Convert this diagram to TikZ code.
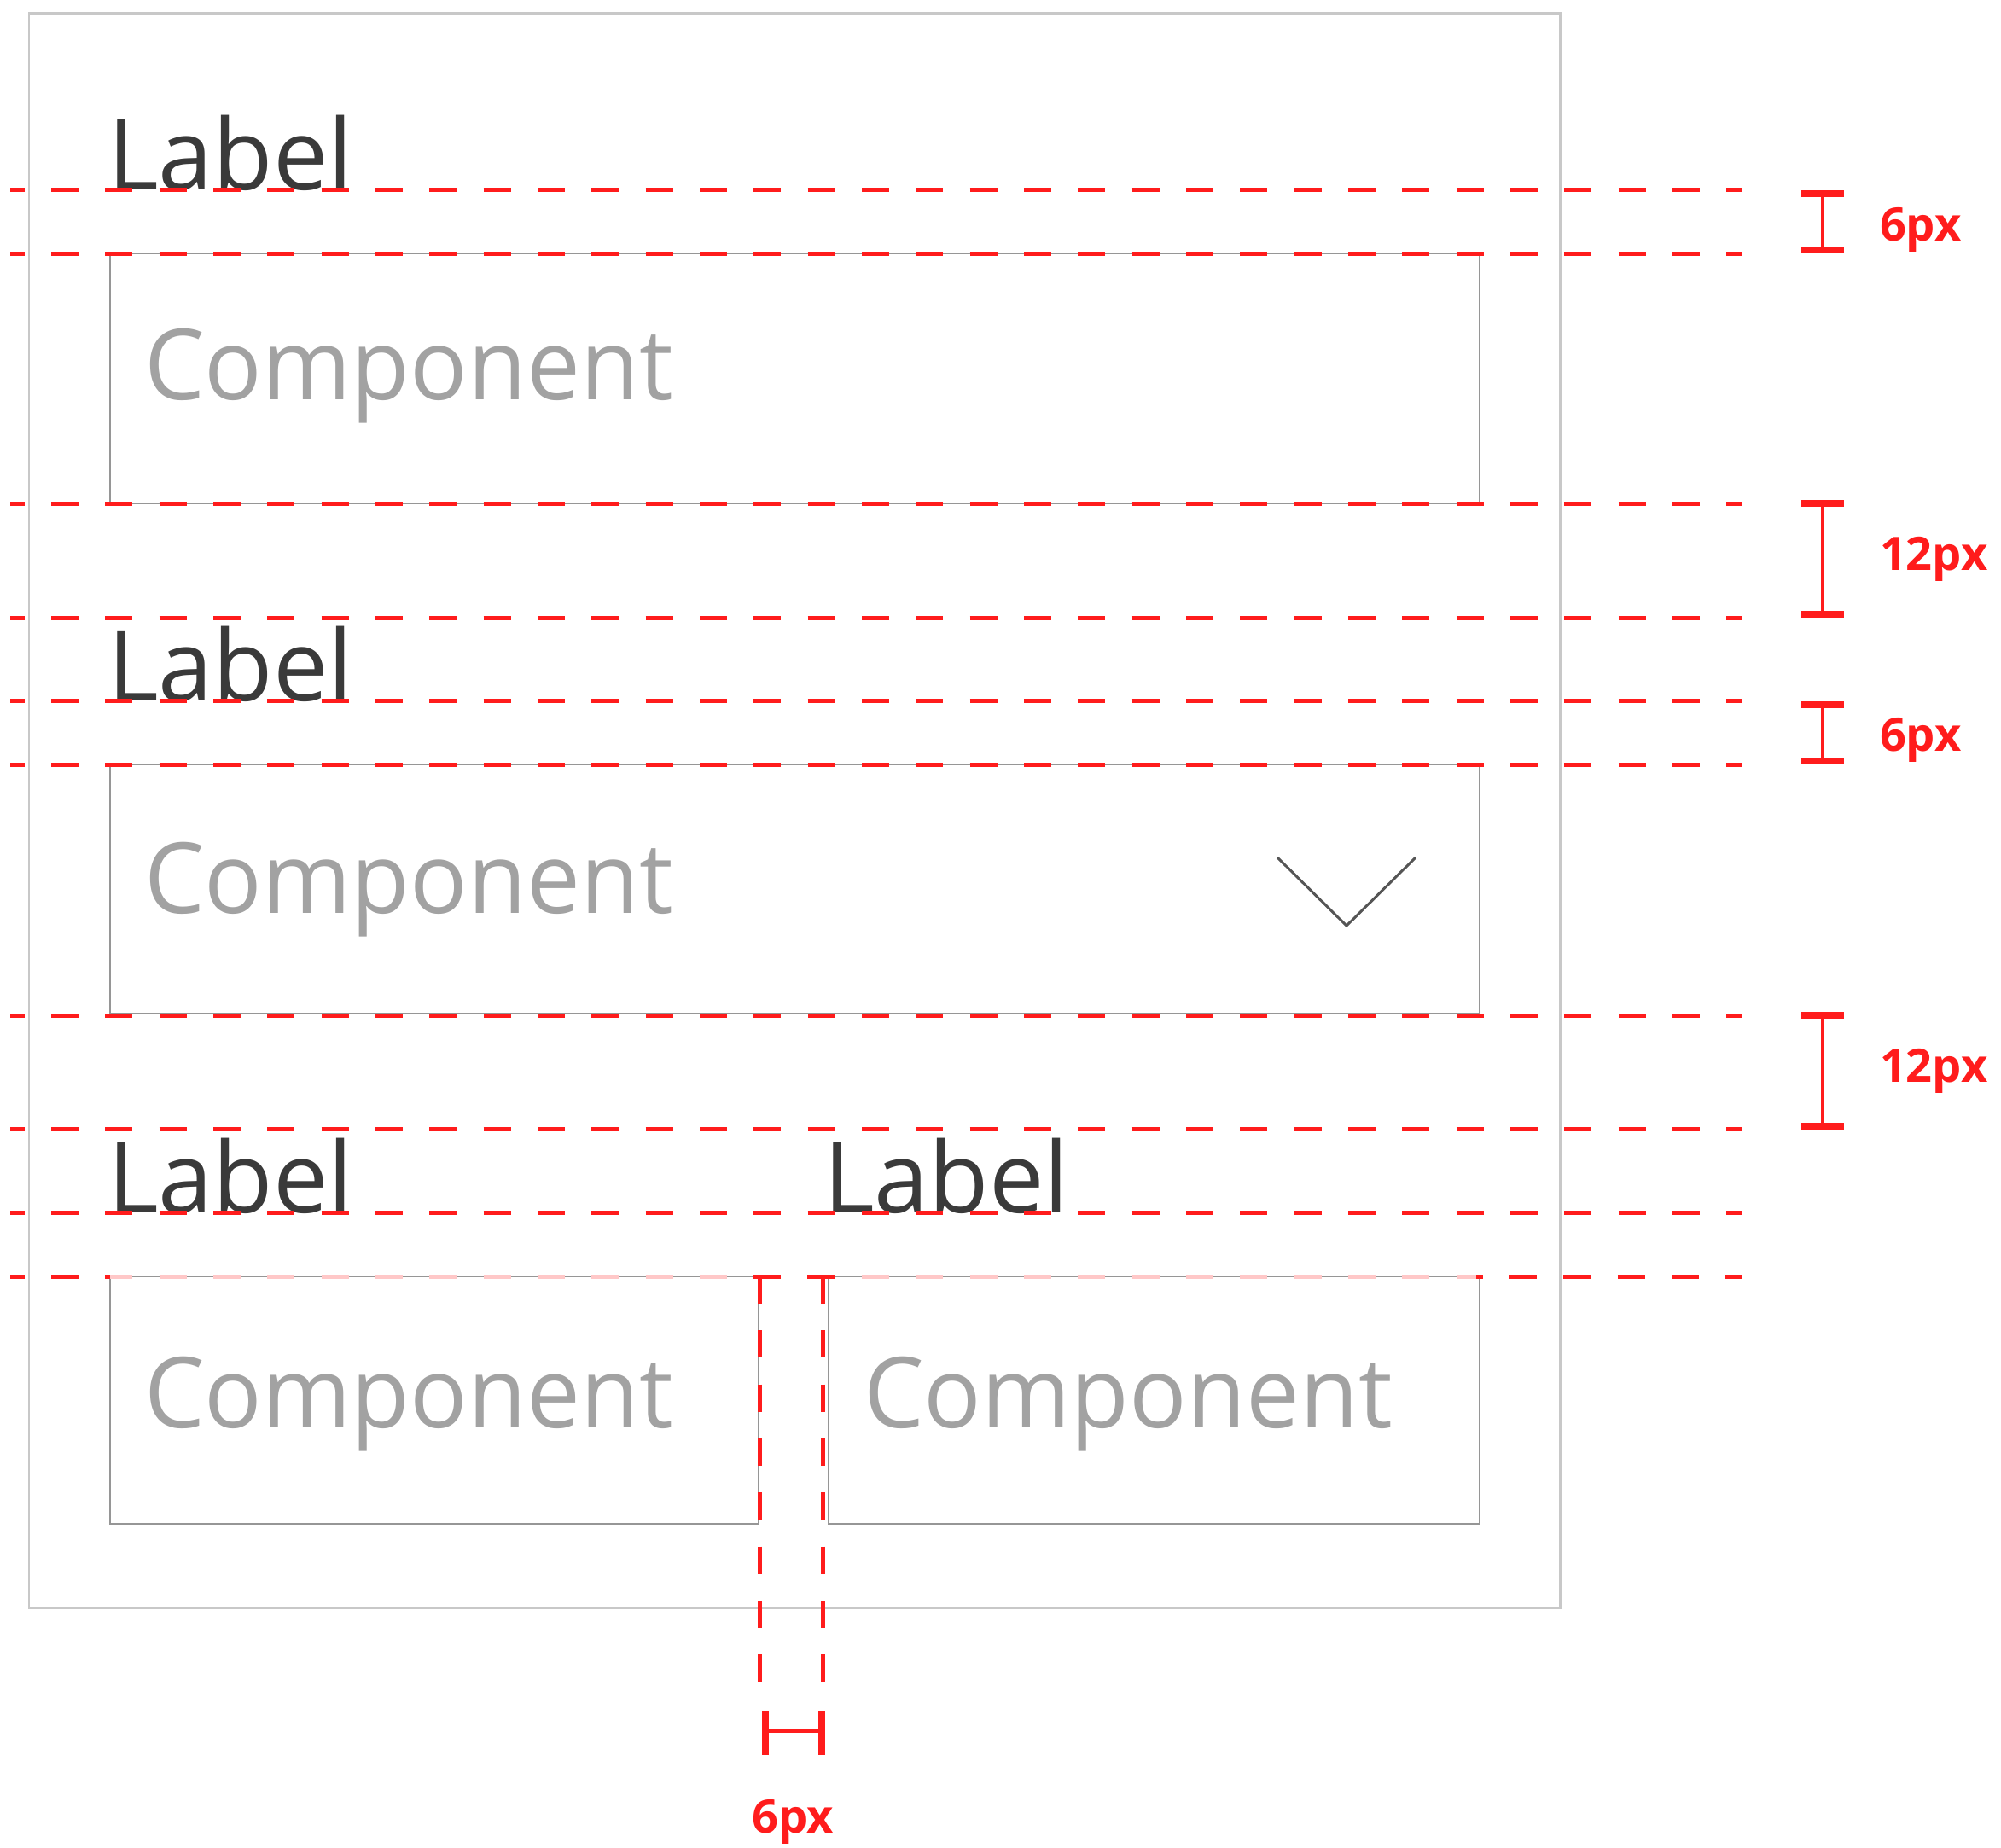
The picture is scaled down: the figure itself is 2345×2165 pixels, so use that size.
\documentclass[tikz,border=0pt]{standalone}
\usepackage{fontspec}
\usepackage{graphicx}
\setmainfont{Open Sans}
\definecolor{mred}{RGB}{255,28,28}
\definecolor{mpink}{RGB}{255,200,200}
\definecolor{labc}{RGB}{58,58,58}
\definecolor{compc}{RGB}{162,162,162}
\definecolor{boxc}{RGB}{150,150,150}
\definecolor{framec}{RGB}{200,200,200}
\definecolor{chevc}{RGB}{85,85,85}
\newcommand{\comptext}{\scalebox{0.975}[1]{Component}}
\tikzset{
  lbl/.style={anchor=base west, inner sep=0pt, outer sep=0pt, text=labc, font=\fontsize{32.72pt}{36pt}\selectfont},
  comp/.style={anchor=base west, inner sep=0pt, outer sep=0pt, text=compc, font=\fontsize{32.72pt}{36pt}\selectfont},
  dim/.style={anchor=base west, inner sep=0pt, outer sep=0pt, text=mred, font=\fontsize{15.4pt}{17pt}\selectfont\bfseries},
  guide/.style={draw=mred, line width=1.42pt, dash pattern=on 9.1pt off 8.91pt, dash phase=4.35pt},
  fieldbox/.style={draw=boxc, line width=0.7pt},
  endbar/.style={draw=mred, line width=2.28pt},
  stem/.style={draw=mred, line width=1.28pt}
}
\begin{document}
\begin{tikzpicture}[x=0.01cm,y=-0.01cm]
\useasboundingbox (0,0) rectangle (2345,2165);
\fill[white] (0,0) rectangle (2345,2165);

% outer frame
\draw[framec, line width=0.85pt] (34,15) rectangle (1828,1884);

% fields
\draw[fieldbox] (129,297) rectangle (1734,590);
\draw[fieldbox] (129,896) rectangle (1734,1188);
\draw[fieldbox] (129,1496) rectangle (889,1786);
\draw[fieldbox] (971,1496) rectangle (1734,1786);

% chevron
\draw[chevc, line width=0.85pt] (1497,1005) -- (1578,1085) -- (1659,1005);

% texts
\node[lbl] (lab1) at (126,222) {Label};
\node[lbl] (lab2) at (126,821) {Label};
\node[lbl] (lab3) at (126,1421) {Label};
\node[lbl] (lab4) at (965,1421) {Label};
\node[comp] (comp1) at (169,468) {\comptext};
\node[comp] (comp2) at (169,1070) {\comptext};
\node[comp] (comp3) at (169,1673) {\comptext};
\node[comp] (comp4) at (1012,1673) {\comptext};

% horizontal guides
\foreach \yy in {222,297,590,724,821,896,1190,1323.5,1421}
  \draw[guide] (12,\yy) -- (2042,\yy);
\draw[guide] (12,1496) -- (129,1496);
\draw[guide, draw=mpink, dash phase=1.62pt] (129,1496) -- (1730,1496);
\draw[guide, dash phase=6.89pt] (1730,1496) -- (2042,1496);
\draw[mred, line width=1.42pt] (883,1496) -- (915,1496);
\draw[mred, line width=1.42pt] (946,1496) -- (978,1496);

% vertical guides
\draw[guide, dash phase=0pt] (890,1496) -- (890,1973);
\draw[guide, dash phase=0pt] (964,1496) -- (964,1973);

% right dimension brackets
\draw[endbar] (2111,227) -- (2161,227);
\draw[endbar] (2111,293) -- (2161,293);
\draw[stem] (2136,227) -- (2136,293);
\node[dim] (d1) at (2203,282) {6px};

\draw[endbar] (2111,590) -- (2161,590);
\draw[endbar] (2111,720) -- (2161,720);
\draw[stem] (2136,590) -- (2136,720);
\node[dim] (d2) at (2203,668) {12px};

\draw[endbar] (2111,826) -- (2161,826);
\draw[endbar] (2111,892) -- (2161,892);
\draw[stem] (2136,826) -- (2136,892);
\node[dim] (d3) at (2203,880) {6px};

\draw[endbar] (2111,1190) -- (2161,1190);
\draw[endbar] (2111,1320) -- (2161,1320);
\draw[stem] (2136,1190) -- (2136,1320);
\node[dim] (d4) at (2203,1268) {12px};

% bottom dimension bracket
\draw[endbar] (897,2005) -- (897,2057);
\draw[endbar] (963,2005) -- (963,2057);
\draw[stem] (897,2029) -- (963,2029);
\node[dim, anchor=base] (d5) at (929,2148) {6px};
\end{tikzpicture}
\end{document}
